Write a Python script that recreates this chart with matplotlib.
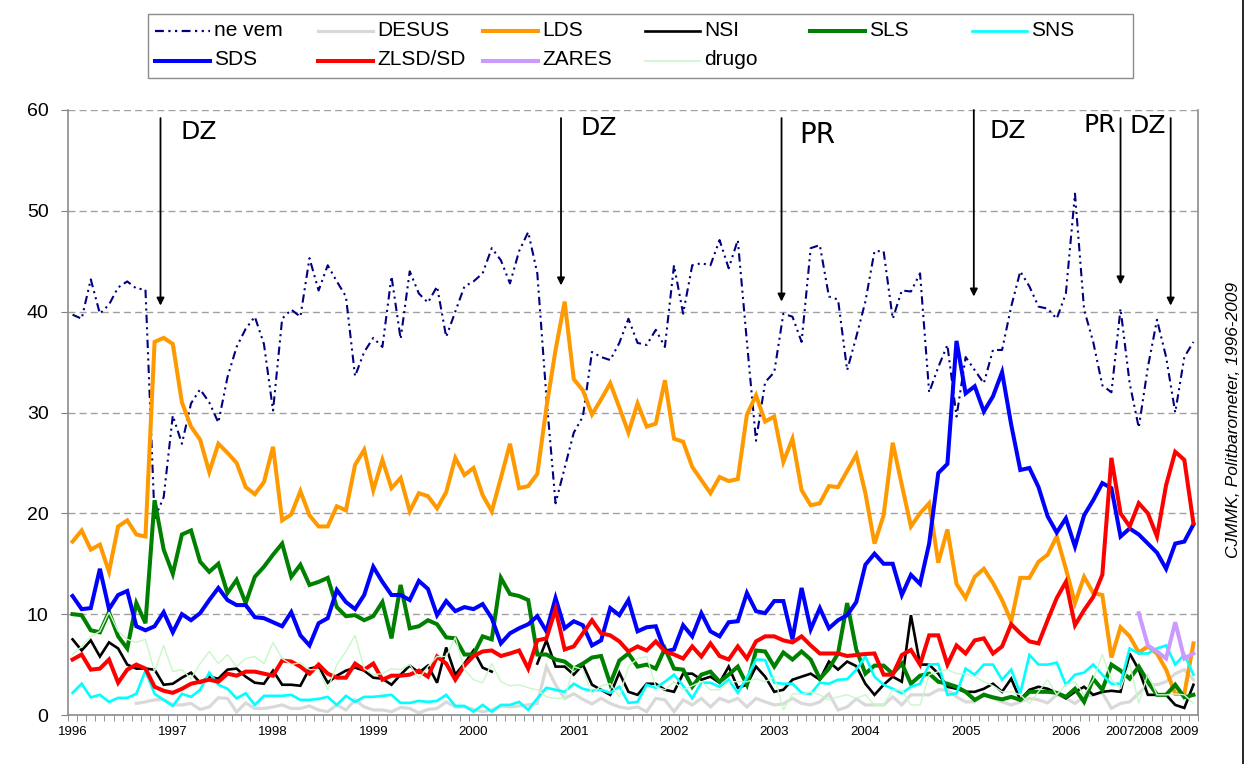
import numpy as np
import matplotlib
matplotlib.use("Agg")
import matplotlib.pyplot as plt
from matplotlib.lines import Line2D
from matplotlib.patches import Rectangle

nan = np.nan

# ---------------- data (values in %) ----------------
ne_vem = [39.7, 39.3, 43.2, 39.8, 40.7, 42.4, 43.0, 42.3, 42.2, 19.5,
          21.6, 29.7, 26.9, 30.9, 32.3, 31.0, 29.0, 33.5, 36.5, 38.3,
          39.5, 36.8, 30.2, 39.3, 40.2, 39.5, 45.3, 42.1, 44.6, 43.0,
          41.5, 33.6, 36.0, 37.4, 36.5, 43.5, 37.3, 44.0, 41.8, 40.9,
          42.5, 37.5, 40.0, 42.5, 43.0, 43.8, 46.3, 45.1, 42.8, 46.0,
          47.9, 43.8, 31.5, 21.0, 24.5, 28.0, 29.6, 36.0, 35.5, 35.2,
          36.9, 39.3, 36.9, 36.7, 38.2, 36.5, 44.6, 39.8, 44.6, 44.8,
          44.6, 47.1, 44.3, 47.1, 37.0, 27.2, 33.0, 34.0, 39.8, 39.5,
          37.0, 46.3, 46.6, 41.5, 41.2, 34.2, 37.5, 41.0, 46.0, 46.0,
          39.3, 42.1, 42.0, 43.8, 32.0, 34.5, 36.7, 29.6, 35.5, 34.2,
          32.9, 36.2, 36.2, 40.5, 44.0, 42.5, 40.5, 40.3, 39.3, 41.8,
          51.7, 40.2, 37.0, 32.7, 32.0, 40.3, 32.9, 28.5, 34.5, 39.2,
          35.5, 30.0, 35.5, 37.0]

desus = [nan, nan, nan, nan, nan, nan, nan, 1.15, 1.3, 1.5,
         1.55, 1.0, 1.0, 1.15, 0.55, 0.8, 1.7, 1.65, 0.3, 1.2,
         0.65, 0.65, 0.8, 1.0, 0.65, 0.65, 0.9, 0.5, 0.33, 1.0,
         0.5, 1.5, 0.8, 0.5, 0.5, 0.33, 0.75, 0.65, 0.2, 0.55,
         0.65, 1.3, 0.8, 0.8, 0.55, 0.33, 0.5, 0.9, 0.8, 0.9,
         1.0, 1.15, 4.8, 3.0, 1.65, 2.1, 1.55, 1.1, 1.65, 1.15,
         0.8, 0.65, 0.8, 0.33, 1.65, 1.5, 0.33, 1.5, 1.0, 1.65,
         0.8, 1.65, 1.3, 1.65, 0.8, 1.65, 1.3, 1.0, 1.1, 1.65,
         1.15, 1.0, 1.3, 2.1, 0.5, 0.8, 1.6, 1.0, 1.0, 1.0,
         1.8, 1.0, 2.0, 2.0, 2.0, 2.5, 2.5, 1.8, 1.3, 1.3,
         2.15, 1.65, 1.3, 1.0, 1.3, 1.65, 1.5, 1.2, 2.0, 1.65,
         1.15, 1.8, 2.0, 2.2, 0.66, 1.15, 1.3, 2.15, 3.0, 3.0,
         3.3, 4.1, 4.5, 3.5]

lds = [17.2, 18.3, 16.4, 16.9, 14.2, 18.7, 19.3, 17.9, 17.7, 37.0,
       37.4, 36.8, 31.0, 28.6, 27.3, 24.1, 26.9, 26.0, 25.0, 22.6,
       21.9, 23.1, 26.6, 19.3, 19.9, 22.2, 19.8, 18.7, 18.7, 20.7,
       20.3, 24.8, 26.3, 22.3, 25.3, 22.5, 23.5, 20.2, 22.0, 21.7,
       20.5, 22.1, 25.5, 23.8, 24.5, 21.8, 20.2, 23.5, 26.9, 22.5,
       22.7, 23.9, 30.5, 36.2, 41.0, 33.3, 32.2, 29.8, 31.3, 32.9,
       30.5, 28.0, 30.9, 28.6, 28.9, 33.2, 27.4, 27.1, 24.6, 23.3,
       22.0, 23.6, 23.2, 23.4, 29.8, 31.7, 29.1, 29.6, 25.1, 27.4,
       22.3, 20.8, 21.0, 22.7, 22.6, 24.2, 25.8, 22.0, 17.0, 19.8,
       27.0, 22.8, 18.7, 20.0, 21.0, 15.1, 18.4, 13.0, 11.6, 13.7,
       14.5, 13.1, 11.4, 9.3, 13.6, 13.6, 15.2, 15.9, 17.7, 14.5,
       11.1, 13.7, 12.1, 11.9, 5.7, 8.7, 7.8, 6.2, 6.8, 6.1,
       4.5, 2.1, 2.1, 7.1]

nsi = [7.5, 6.4, 7.4, 5.8, 7.2, 6.6, 5.0, 4.6, 4.6, 4.5,
       3.0, 3.1, 3.7, 4.2, 3.2, 3.8, 3.6, 4.5, 4.6, 3.8,
       3.2, 3.1, 4.4, 3.0, 3.0, 2.9, 4.6, 4.8, 3.2, 3.9,
       4.4, 4.7, 4.4, 3.7, 3.6, 3.0, 4.0, 4.9, 4.2, 4.9,
       3.2, 6.7, 4.0, 5.1, 6.4, 4.7, 4.3, nan, nan, nan,
       nan, 5.1, 7.4, 4.8, 4.8, 4.0, 5.0, 3.0, 2.5, 2.0,
       4.2, 2.3, 2.0, 3.1, 3.1, 2.5, 2.3, 4.1, 4.1, 3.5,
       3.8, 3.2, 4.8, 2.7, 3.0, 4.8, 3.8, 2.3, 2.5, 3.5,
       3.8, 4.1, 3.5, 5.3, 4.5, 5.3, 4.85, 3.1, 2.0, 3.0,
       3.8, 3.3, 9.9, 5.0, 5.0, 4.1, 2.8, 2.6, 2.3, 2.3,
       2.6, 3.1, 2.3, 3.6, 1.5, 2.5, 2.8, 2.6, 2.2, 1.65,
       2.3, 2.8, 2.0, 2.3, 2.4, 2.3, 6.1, 4.5, 2.0, 2.0,
       2.0, 1.0, 0.7, 3.0]

sls = [10.0, 9.9, 8.4, 8.2, 10.2, 7.8, 6.6, 11.1, 9.1, 21.3,
       16.4, 14.0, 17.9, 18.3, 15.2, 14.2, 15.0, 12.1, 13.4, 11.1,
       13.7, 14.7, 15.9, 17.0, 13.7, 14.9, 12.9, 13.2, 13.6, 10.7,
       9.8, 9.9, 9.4, 9.8, 11.2, 7.6, 12.9, 8.6, 8.8, 9.4,
       9.0, 7.7, 7.6, 6.0, 6.0, 7.8, 7.5, 13.6, 12.0, 11.8,
       11.4, 6.0, 6.0, 5.5, 5.3, 4.6, 5.1, 5.7, 5.85, 3.1,
       5.4, 6.1, 4.8, 5.0, 4.6, 6.6, 4.6, 4.5, 2.8, 4.0,
       4.3, 3.3, 4.0, 4.8, 3.0, 6.4, 6.3, 4.8, 6.2, 5.5,
       6.3, 5.5, 3.6, 4.6, 6.1, 11.1, 6.5, 4.1, 4.9, 4.9,
       4.1, 5.1, 3.1, 3.9, 4.1, 3.3, 3.1, 2.8, 2.3, 1.5,
       2.0, 1.75, 1.55, 1.8, 1.5, 2.3, 2.3, 2.3, 2.2, 1.8,
       2.6, 1.3, 3.6, 2.5, 5.0, 4.4, 3.6, 4.8, 3.3, 2.0,
       2.0, 3.0, 1.75, 2.0]

sns_ = [2.2, 3.1, 1.75, 2.0, 1.3, 1.7, 1.7, 2.1, 4.4, 2.1,
        1.5, 0.9, 2.1, 1.8, 2.5, 4.2, 3.0, 2.6, 1.65, 2.15,
        1.0, 1.9, 1.9, 1.9, 2.0, 1.5, 1.5, 1.6, 1.8, 1.0,
        1.9, 1.3, 1.8, 1.8, 1.9, 2.0, 1.2, 1.2, 1.4, 1.3,
        1.4, 2.0, 0.9, 0.9, 0.33, 1.0, 0.33, 1.0, 1.0, 1.3,
        0.5, 1.65, 2.7, 2.5, 2.3, 3.1, 2.6, 2.4, 2.5, 2.2,
        2.8, 1.2, 1.3, 3.0, 2.7, 3.3, 4.0, 2.9, 1.65, 3.2,
        3.2, 2.8, 3.5, 2.2, 3.7, 5.5, 5.45, 3.2, 3.1, 3.1,
        2.2, 2.1, 3.2, 3.1, 3.5, 3.55, 4.5, 5.8, 3.8, 3.0,
        2.6, 2.15, 2.8, 3.1, 5.0, 5.05, 2.0, 2.15, 4.6, 4.0,
        5.0, 5.0, 3.5, 4.5, 2.15, 5.95, 5.0, 5.0, 5.2, 3.0,
        4.0, 4.2, 5.0, 4.0, 3.1, 3.1, 6.6, 6.1, 6.1, 6.6,
        6.9, 5.0, 6.0, 4.0]

sds = [11.8, 10.5, 10.6, 14.5, 10.5, 11.9, 12.3, 8.8, 8.4, 8.8,
       10.2, 8.2, 10.0, 9.4, 10.1, 11.4, 12.6, 11.4, 10.9, 10.9,
       9.7, 9.6, 9.2, 8.8, 10.2, 7.9, 6.9, 9.1, 9.6, 12.4,
       11.2, 10.5, 11.9, 14.7, 13.2, 11.9, 11.9, 11.4, 13.3, 12.5,
       9.9, 11.3, 10.3, 10.7, 10.5, 11.0, 9.6, 7.1, 8.1, 8.6,
       9.0, 9.8, 8.3, 11.6, 8.6, 9.3, 8.9, 6.9, 7.4, 10.6,
       9.9, 11.4, 8.3, 8.7, 8.8, 6.3, 6.5, 8.9, 7.8, 10.1,
       8.3, 7.8, 9.2, 9.3, 12.1, 10.3, 10.1, 11.3, 11.3, 7.5,
       12.6, 8.5, 10.6, 8.6, 9.4, 9.9, 11.2, 14.9, 16.0, 15.0,
       15.0, 11.9, 13.9, 13.0, 17.0, 24.0, 24.9, 37.1, 31.9, 32.6,
       30.1, 31.6, 34.0, 28.8, 24.3, 24.5, 22.6, 19.7, 18.1, 19.5,
       16.7, 19.8, 21.3, 23.0, 22.5, 17.7, 18.5, 17.9, 17.0, 16.1,
       14.5, 17.0, 17.2, 18.9]

zlsd_sd = [5.5, 6.0, 4.5, 4.6, 5.5, 3.2, 4.5, 5.0, 4.6, 2.8,
           2.4, 2.2, 2.6, 3.1, 3.3, 3.5, 3.3, 4.1, 3.9, 4.3,
           4.3, 4.1, 3.9, 5.4, 5.3, 4.8, 4.1, 5.0, 4.1, 3.7,
           3.7, 5.1, 4.5, 5.1, 3.5, 3.9, 3.9, 4.0, 4.4, 3.8,
           5.8, 5.1, 3.5, 4.9, 5.85, 6.3, 6.4, 5.85, 6.1, 6.4,
           4.6, 7.4, 7.6, 10.5, 6.5, 6.8, 8.1, 9.4, 8.1, 7.9,
           7.3, 6.3, 6.8, 6.4, 7.3, 6.3, 6.0, 5.6, 6.8, 5.8,
           7.1, 5.85, 5.5, 6.8, 5.6, 7.3, 7.8, 7.8, 7.4, 7.2,
           7.8, 6.9, 6.1, 6.1, 6.1, 5.85, 5.95, 6.05, 6.1, 4.0,
           4.0, 5.95, 6.45, 5.0, 7.9, 7.9, 5.0, 6.9, 6.1, 7.4,
           7.6, 6.1, 6.8, 9.0, 8.1, 7.3, 7.1, 9.4, 11.6, 13.2,
           8.9, 10.4, 11.7, 13.9, 25.5, 20.0, 18.7, 21.0, 20.0, 17.7,
           22.8, 26.1, 25.3, 19.0]

zares = [nan] * 117 + [10.1, 6.9, 6.3, 5.6, 9.2, 5.6, 6.1]

drugo = [6.0, 6.8, 7.8, 8.3, 10.2, 8.3, 7.5, 7.2, 7.5, 4.3,
         6.9, 4.3, 4.5, 3.6, 5.1, 6.3, 5.1, 6.0, 4.8, 5.6,
         5.8, 5.1, 7.2, 5.6, 5.0, 5.2, 4.5, 4.5, 2.5, 5.0,
         6.3, 7.9, 4.6, 4.0, 4.1, 4.6, 4.5, 5.0, 3.6, 4.8,
         5.8, 5.8, 7.7, 4.5, 3.5, 3.2, 5.1, 3.3, 2.9, 3.0,
         2.7, 2.5, 1.8, 1.65, 1.65, 4.8, 4.5, 2.1, 2.9, 3.1,
         1.8, 4.8, 5.6, 5.8, 2.8, 2.5, 3.3, 2.5, 2.9, 3.3,
         2.5, 2.5, 3.3, 3.3, 3.3, 3.6, 3.3, 3.8, 0.5, 2.1,
         2.1, 2.3, 2.0, 1.5, 1.8, 2.0, 1.65, 2.0, 1.0, 1.0,
         2.5, 2.5, 1.0, 1.0, 4.0, 4.3, 4.5, 4.1, 4.1, 3.8,
         3.3, 2.9, 2.3, 2.3, 2.0, 1.15, 2.3, 3.5, 2.0, 3.0,
         3.3, 2.0, 3.5, 6.0, 3.5, 2.6, 5.1, 1.15, 4.1, 2.0,
         2.0, 2.1, 2.0, 1.15]

year_labels = ['1996', '1997', '1998', '1999', '2000', '2001', '2002', '2003',
               '2004', '2005', '2006', '2007', '2008', '2009']
year_pos = [0, 11, 22, 33, 44, 55, 66, 77, 87, 98, 109, 115, 118, 122]

# events: (label, category position of arrow, arrow tip value)
event_labels = ['DZ', 'DZ', 'PR', 'DZ', 'PR', 'DZ']
event_pos = [9.65, 53.6, 77.8, 98.9, 115.0, 120.5]
event_tip = [40.6, 42.6, 41.0, 41.5, 42.7, 40.6]

# ---------------- figure ----------------
W, H = 1246, 764
fig = plt.figure(figsize=(W / 100, H / 100), dpi=100)
ax = fig.add_axes([68 / W, 1 - 715 / H, (1198 - 68) / W, (715 - 110) / H])

N = len(lds)

series = [
    ('ne vem', ne_vem, '#000080', 1.5, (0, (4, 2, 1, 2, 1, 2))),
    ('DESUS', desus, '#d9d9d9', 2.3, '-'),
    ('LDS', lds, '#ff9900', 2.9, '-'),
    ('NSI', nsi, '#000000', 1.9, '-'),
    ('SLS', sls, '#008000', 2.9, '-'),
    ('SNS', sns_, '#00ffff', 1.9, '-'),
    ('SDS', sds, '#0000ff', 2.9, '-'),
    ('ZLSD/SD', zlsd_sd, '#ff0000', 2.9, '-'),
    ('ZARES', zares, '#cc99ff', 2.9, '-'),
    ('drugo', drugo, '#c8f8c8', 1.0, '-'),
]

for name, data, color, lw, ls in series:
    xs = np.arange(len(data))
    ax.plot(xs, data, color=color, lw=lw, linestyle=ls,
            solid_joinstyle='miter', dash_capstyle='butt')

ax.set_xlim(-0.5, N - 0.5)
ax.set_ylim(0, 60)

grid_c = '#a0a0a0'
ax.set_yticks(range(0, 61, 10))
ax.yaxis.grid(True, linestyle=(0, (5, 3)), color=grid_c, lw=1.0)
ax.set_axisbelow(True)

ax.set_xticks(year_pos)
ax.set_xticklabels(year_labels, fontsize=9.5, family='Liberation Sans')
ax.set_xticks(np.arange(-0.5, N, 1.0), minor=True)
ax.tick_params(axis='x', which='major', length=0, pad=8)
ax.tick_params(axis='x', which='minor', length=4, direction='out', color='#808080')
ax.tick_params(axis='y', which='major', length=5, direction='out', color='#808080',
               labelsize=14, pad=9)
for lab in ax.get_yticklabels():
    lab.set_family('Liberation Sans')

for s in ['left', 'bottom', 'right']:
    ax.spines[s].set_color('#8c8c8c')
    ax.spines[s].set_linewidth(1.2)
ax.spines['top'].set_visible(False)

# event arrows & labels
text_xy = [(13.9, 57.8), (57.7, 58.2), (81.7, 57.5), (102.6, 57.9), (112.7, 58.5), (118.0, 58.4)]
text_fs = [18, 18, 20, 18, 18, 18]
for k, (lab, xp, tip) in enumerate(zip(event_labels, event_pos, event_tip)):
    top = 60 if k == 3 else 59.2
    ax.annotate('', xy=(xp, tip), xytext=(xp, top),
                arrowprops=dict(arrowstyle='-|>', color='black', lw=1.3,
                                mutation_scale=11, shrinkA=0, shrinkB=0),
                annotation_clip=False)
    tx, ty = text_xy[k]
    ax.text(tx, ty, lab, ha='center', va='center', fontsize=text_fs[k], family='DejaVu Sans')

# manual legend (Excel-like equal columns)
legend_box = Rectangle((148 / W, 1 - 78 / H), (1133 - 148) / W, 64 / H,
                       transform=fig.transFigure, fill=False, edgecolor='#8c8c8c', lw=1.0)
fig.add_artist(legend_box)
col_x = [155, 318, 483, 645, 810, 972]
row_y = [31, 61]
for k, (name, data, color, lw, ls) in enumerate(series):
    r, c = divmod(k, 6)
    x0 = col_x[c]
    y0 = 1 - row_y[r] / H
    fig.add_artist(Line2D([x0 / W, (x0 + 55) / W], [y0, y0], transform=fig.transFigure,
                          color=color, lw=max(lw, 1.6) if name != 'drugo' else 1.2,
                          linestyle=ls))
    fig.text((x0 + 59) / W, y0 + 1 / H, name, ha='left', va='center', fontsize=15,
             family='Liberation Sans')

# source note and right border
fig.text(1233 / W, 1 - 420 / H, 'CJMMK, Politbarometer, 1996-2009', rotation=90,
         style='italic', fontsize=12.5, family='Liberation Sans', ha='center', va='center')
fig.add_artist(Line2D([1243 / W, 1243 / W], [0, 1], transform=fig.transFigure,
                      color='black', lw=1.2))

fig.savefig('out.png', dpi=100)
